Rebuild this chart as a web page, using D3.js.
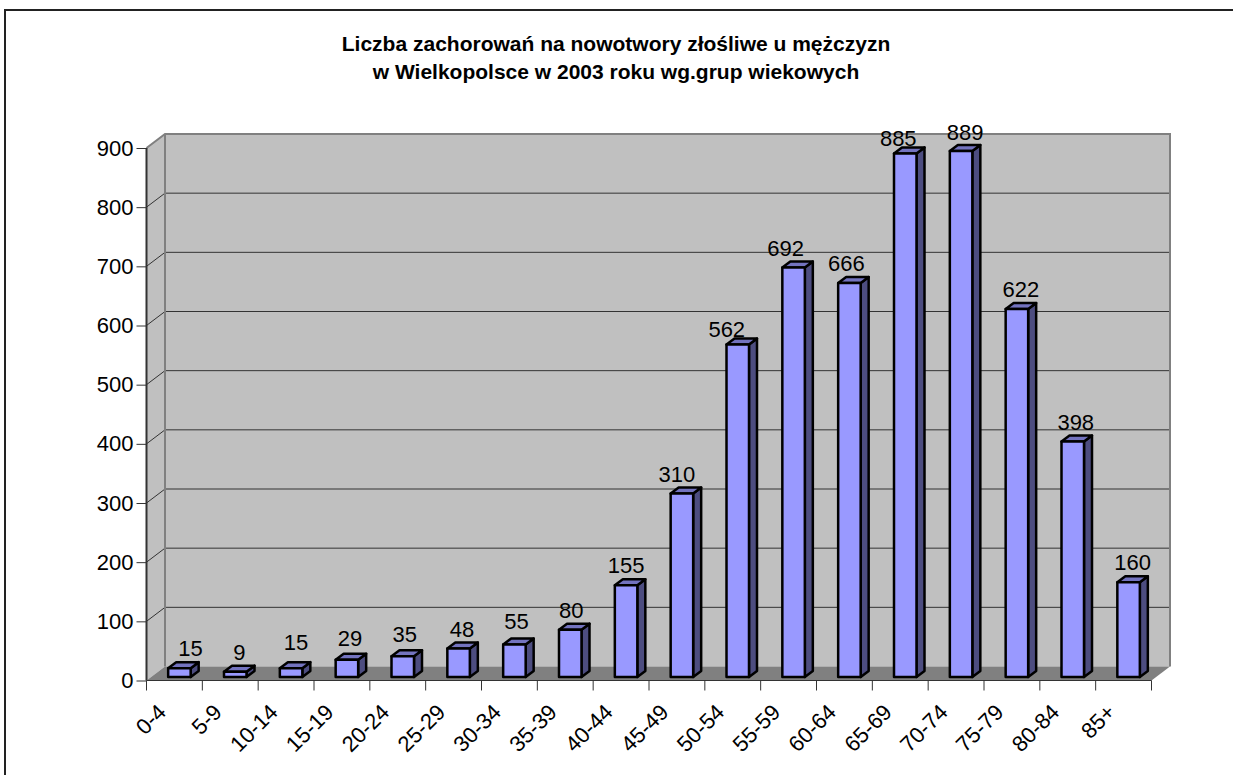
<!DOCTYPE html>
<html>
<head>
<meta charset="utf-8">
<script src="https://cdn.jsdelivr.net/npm/d3@7"></script>
<style>
  html, body { margin: 0; padding: 0; background: #fff; overflow: hidden; }
  text { font-family: "Liberation Sans", Arial, sans-serif; fill: #000; }
</style>
</head>
<body>
<div id="chart"></div>
<script>
// Values
var ageGroups = ["0-4", "5-9", "10-14", "15-19", "20-24", "25-29", "30-34", "35-39", "40-44",
    "45-49", "50-54", "55-59", "60-64", "65-69", "70-74", "75-79", "80-84", "85+"];
var cases = [15, 9, 15, 29, 35, 48, 55, 80, 155, 310, 562, 692, 666, 885, 889, 622, 398, 160];
var yTicks = [0, 100, 200, 300, 400, 500, 600, 700, 800, 900];
var titleLines = ["Liczba zachorowań na nowotwory złośliwe u mężczyzn",
    "w Wielkopolsce w 2003 roku wg.grup wiekowych"];

// The value labels were moved by hand in the original, so each has its own nudge
var labelDx = [16, 9, 10, 8, 7, 8.5, 7, 6, 5, 0, -6, -3, 2, -2, 9, 9, 8, 9];
var labelDy = [-16, -15, -22, -17, -18, -15.5, -19, -15, -16, -15, -11, -15, -15, -11, -15, -15, -15, -16];

var width = 1233, height = 775;
var left = 146.5, right = 1151.5, top_ = 148, bottom = 680.5;
var depthX = 18.5, depthY = -14;   // depth of the chart box
var barDX = 8, barDY = -6;         // depth of one bar

var svg = d3.select("#chart")
    .append("svg")
    .attr("width", width)
    .attr("height", height)
    .style("display", "block");

// Frame, only left and top fall inside the picture
svg.append("path")
    .attr("d", "M5,775V10H1233")
    .attr("fill", "none")
    .attr("stroke", "#222")
    .attr("stroke-width", 2);

// Title
svg.selectAll("text.title")
    .data(titleLines)
    .enter().append("text")
    .attr("class", "title")
    .attr("x", 616)
    .attr("y", function (d, i) { return 51 + i * 28; })
    .attr("text-anchor", "middle")
    .style("font-size", "21px")
    .style("font-weight", "bold")
    .text(function (d) { return d; });

var xScale = d3.scaleBand()
    .domain(ageGroups)
    .range([left, right]);

var yScale = d3.scaleLinear()
    .domain([0, 900])
    .range([bottom, top_]);

// Walls
svg.append("path")
    .attr("d", "M" + left + "," + bottom + "V" + top_ + "l" + depthX + "," + depthY +
        "V" + (bottom + depthY) + "Z")
    .attr("fill", "#c0c0c0");
svg.append("rect")
    .attr("x", left + depthX)
    .attr("y", top_ + depthY)
    .attr("width", right - left)
    .attr("height", bottom - top_)
    .attr("fill", "#c0c0c0");
// Floor
svg.append("path")
    .attr("d", "M" + left + "," + bottom + "l" + depthX + "," + depthY + "H" + (right + depthX) +
        "l" + (-depthX) + "," + (-depthY) + "Z")
    .attr("fill", "#808080");

// Gridlines on the side wall and the back wall
var gridTicks = yTicks.filter(function (d) { return d > 0 && d < 900; });
svg.selectAll("path.grid")
    .data(gridTicks)
    .enter().append("path")
    .attr("class", "grid")
    .attr("fill", "none")
    .attr("stroke", "#333")
    .attr("stroke-width", 1)
    .attr("d", function (d) {
        var y = yScale(d);
        return "M" + left + "," + y + "l" + depthX + "," + depthY + "H" + (right + depthX);
    });

// Grey wall edges
svg.append("path")
    .attr("d", "M" + left + "," + top_ + "l" + depthX + "," + depthY + "H" + (right + depthX) +
        "V" + (bottom + depthY) + "M" + (left + depthX) + "," + (top_ + depthY) + "V" + (bottom + depthY))
    .attr("fill", "none")
    .attr("stroke", "#808080")
    .attr("stroke-width", 2);

// Bars
var barW = 22.5, barShift = 5, baseShift = 3.5;
var bars = svg.selectAll("g.bar")
    .data(ageGroups)
    .enter().append("g")
    .attr("class", "bar")
    .attr("stroke", "#000")
    .attr("stroke-width", 2.5)
    .attr("stroke-linejoin", "round");

function barX(d) { return xScale(d) + (xScale.bandwidth() - barW) / 2 + barShift; }
function barTop(i) { return yScale(cases[i]) - baseShift; }

bars.append("path")   // side
    .attr("fill", "#4d4d80")
    .attr("d", function (d, i) {
        var x = barX(d) + barW, y = barTop(i);
        return "M" + x + "," + y + "l" + barDX + "," + barDY + "V" + (bottom - baseShift + barDY) +
            "l" + (-barDX) + "," + (-barDY) + "Z";
    });
bars.append("path")   // top
    .attr("fill", "#7373bf")
    .attr("d", function (d, i) {
        return "M" + barX(d) + "," + barTop(i) + "l" + barDX + "," + barDY + "h" + barW +
            "l" + (-barDX) + "," + (-barDY) + "Z";
    });
bars.append("rect")   // front
    .attr("fill", "#9999ff")
    .attr("x", barX)
    .attr("y", function (d, i) { return barTop(i); })
    .attr("width", barW)
    .attr("height", function (d, i) { return bottom - baseShift - barTop(i); });

// Value labels
svg.selectAll("text.value")
    .data(cases)
    .enter().append("text")
    .attr("class", "value")
    .attr("x", function (d, i) { return xScale(ageGroups[i]) + xScale.bandwidth() / 2 + labelDx[i]; })
    .attr("y", function (d, i) { return yScale(d) + labelDy[i]; })
    .attr("text-anchor", "middle")
    .style("font-size", "22px")
    .text(function (d) { return d; });

// Y axis
var yAxis = d3.axisLeft(yScale).tickValues(yTicks).tickSize(10).tickPadding(3);
var yG = svg.append("g")
    .attr("transform", "translate(" + left + ",0)")
    .call(yAxis);
yG.selectAll("text").style("font-size", "22px").attr("font-family", null);
yG.select(".domain").attr("stroke-width", 2).attr("stroke", "#333").attr("d", "M0," + bottom + "V" + top_);
yG.selectAll(".tick line").attr("stroke", "#333");

// X axis
var xAxis = d3.axisBottom(xScale).tickSize(0).tickPadding(0);
var xG = svg.append("g")
    .attr("transform", "translate(0," + bottom + ")")
    .call(xAxis);
xG.select(".domain").attr("stroke", "#333").attr("d", "M" + left + ",0H" + right);
xG.selectAll("text")
    .attr("font-family", null)
    .style("font-size", "22px")
    .attr("text-anchor", "end")
    .attr("dy", null)
    .attr("y", null)
    .attr("transform", "translate(-7,33) rotate(-45)");

// Category boundary ticks
var edges = ageGroups.map(function (d) { return xScale(d); }).concat([right]);
svg.selectAll("line.xtick")
    .data(edges)
    .enter().append("line")
    .attr("class", "xtick")
    .attr("x1", function (d) { return d; })
    .attr("x2", function (d) { return d; })
    .attr("y1", bottom)
    .attr("y2", bottom + 10)
    .attr("stroke", "#333");
</script>
</body>
</html>
